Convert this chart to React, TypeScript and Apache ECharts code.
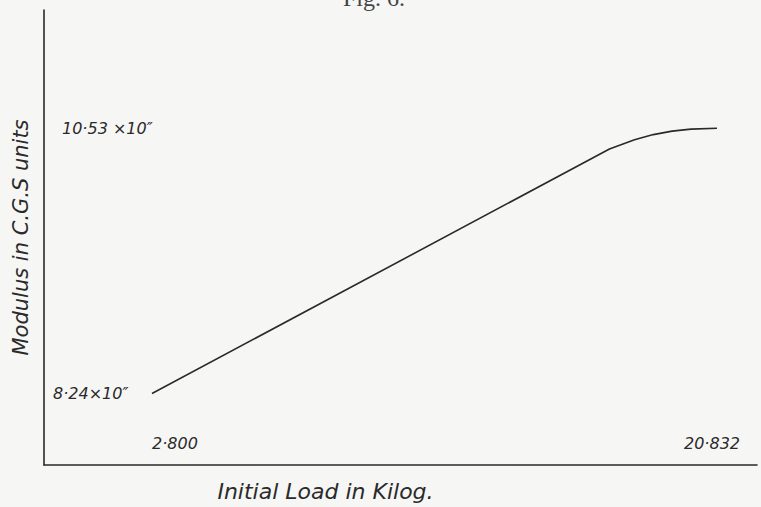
import React, { useEffect, useRef } from "react";
import * as echarts from "echarts";

// Initial load (kg) vs modulus (x10^11 C.G.S.)
const loadValues = [2.8, 17.4, 18.2, 18.8, 19.4, 20.0, 20.832];
const modulusValues = [8.24, 10.35, 10.43, 10.475, 10.505, 10.522, 10.53];
const xTickValues = [2.8, 20.832];
const xTickLabels = ["2·800", "20·832"];
const yTickValues = [8.24, 10.53];
const yTickLabels = ["8·24×10″", "10·53 ×10″"];

const titleText = "Fig. 6.";
const xName = "Initial Load in Kilog.";
const yName = "Modulus in C.G.S units";

const ink = "#2a2a2a";
const hand = "'DejaVu Sans', sans-serif";

export default function App() {
  const ref = useRef<HTMLDivElement>(null);
  useEffect(() => {
    if (!ref.current) return;
    const chart = echarts.init(ref.current, null, { renderer: "svg" });
    const data = loadValues.map((x, i) => [x, modulusValues[i]]);
    chart.setOption({
      animation: false,
      backgroundColor: "#f6f6f5",
      grid: { left: 44, top: 10, width: 713, height: 458 },
      graphic: [
        {
          type: "text",
          left: 343,
          top: -14,
          style: {
            text: titleText,
            font: "24px 'Liberation Serif', serif",
            fill: "#444",
          },
        },
      ],
      xAxis: {
        type: "value",
        min: -0.647,
        max: 22.109,
        name: xName,
        nameLocation: "middle",
        nameGap: 15,
        nameTextStyle: {
          fontFamily: hand,
          fontStyle: "italic",
          fontSize: 22,
          color: ink,
          padding: [0, 150, 0, 0],
        },
        axisLine: { show: true, onZero: false, lineStyle: { color: ink, width: 1.6 } },
        axisTick: { show: false },
        splitLine: { show: false },
        axisLabel: {
          inside: true,
          margin: 14,
          customValues: xTickValues,
          formatter: (v: number) => {
            const i = xTickValues.indexOf(v);
            if (i < 0) return "";
            return i === 0 ? `{a|${xTickLabels[i]}}` : `{b|${xTickLabels[i]}}`;
          },
          rich: {
            a: {
              fontFamily: hand,
              fontStyle: "italic",
              fontSize: 16,
              color: ink,
              padding: [0, 0, 0, 46],
            },
            b: {
              fontFamily: hand,
              fontStyle: "italic",
              fontSize: 16,
              color: ink,
              padding: [0, 10, 0, 0],
            },
          },
        },
      },
      yAxis: {
        type: "value",
        min: 7.6225,
        max: 11.5506,
        name: yName,
        nameLocation: "middle",
        nameGap: 13,
        nameTextStyle: {
          fontFamily: hand,
          fontStyle: "italic",
          fontSize: 21,
          color: ink,
        },
        axisLine: { show: true, onZero: false, lineStyle: { color: ink, width: 1.6 } },
        axisTick: { show: false },
        splitLine: { show: false },
        axisLabel: {
          inside: true,
          margin: 9,
          customValues: yTickValues,
          formatter: (v: number) => {
            const i = yTickValues.indexOf(v);
            if (i < 0) return "";
            return i === 0 ? `{b|${yTickLabels[i]}}` : `{a|${yTickLabels[i]}}`;
          },
          rich: {
            a: {
              fontFamily: hand,
              fontStyle: "italic",
              fontSize: 16,
              color: ink,
              padding: [0, 0, 0, 9],
            },
            b: {
              fontFamily: hand,
              fontStyle: "italic",
              fontSize: 16,
              color: ink,
            },
          },
        },
      },
      series: [
        {
          type: "line",
          data,
          smooth: false,
          showSymbol: false,
          symbol: "none",
          lineStyle: { color: ink, width: 1.6 },
        },
      ],
    });
    return () => chart.dispose();
  }, []);
  return (
    <div
      ref={ref}
      style={{ position: "fixed", left: 0, top: 0, width: 761, height: 507 }}
    />
  );
}
